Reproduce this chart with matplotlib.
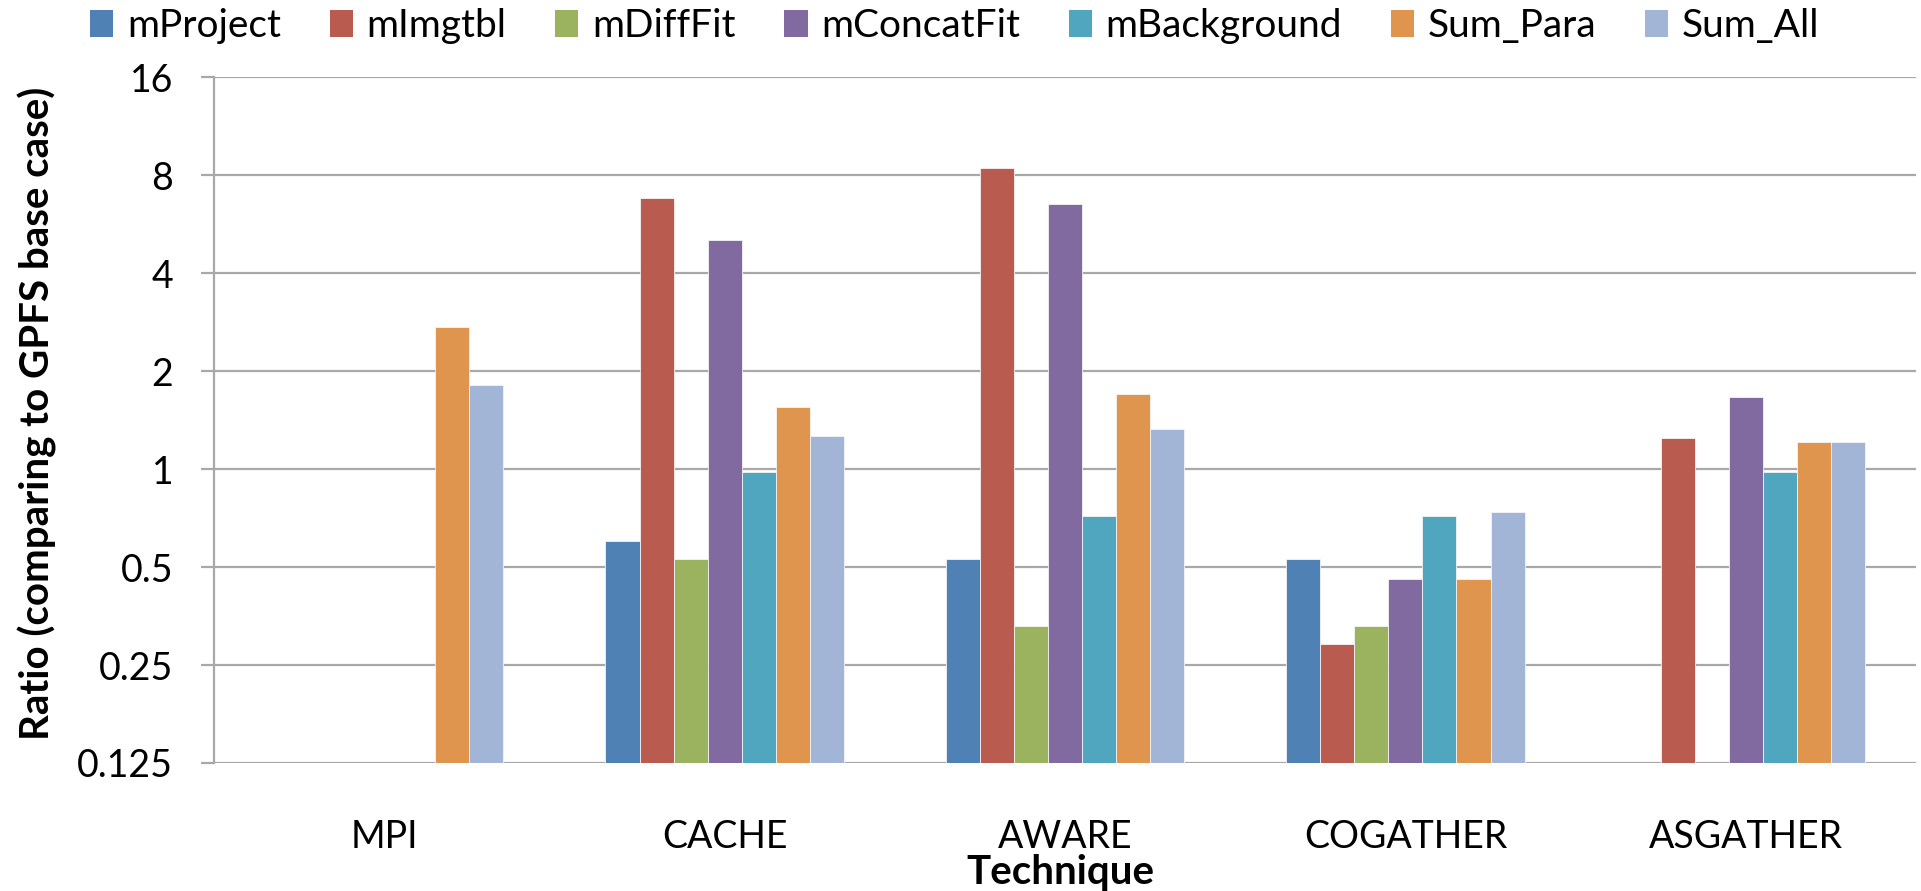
import numpy as np
import matplotlib
import matplotlib.pyplot as plt
from matplotlib.patches import Patch

matplotlib.use('Agg')

plt.rcParams['font.family'] = ['Lato', 'DejaVu Sans']

techniques = ['MPI', 'CACHE', 'AWARE', 'COGATHER', 'ASGATHER']
stages = ['mProject', 'mImgtbl', 'mDiffFit', 'mConcatFit', 'mBackground', 'Sum_Para', 'Sum_All']
colors = ['#4f81b4', '#ba5b50', '#9bb25e', '#816aa0', '#50a6be', '#df954e', '#a3b5d7']

# ratio to GPFS base case, one list per stage (nan = not measured)
mproject = [np.nan, 0.60, 0.53, 0.53, np.nan]
mimgtbl = [np.nan, 6.8, 8.45, 0.29, 1.25]
mdifffit = [np.nan, 0.53, 0.33, 0.33, np.nan]
mconcatfit = [np.nan, 5.05, 6.55, 0.46, 1.67]
mbackground = [np.nan, 0.98, 0.72, 0.72, 0.98]
sum_para = [2.73, 1.55, 1.70, 0.46, 1.21]
sum_all = [1.82, 1.26, 1.33, 0.74, 1.21]

yticks = [0.125, 0.25, 0.5, 1, 2, 4, 8, 16]
ytick_labels = ['0.125', '0.25', '0.5', '1', '2', '4', '8', '16']

values = [mproject, mimgtbl, mdifffit, mconcatfit, mbackground, sum_para, sum_all]

fig = plt.figure(figsize=(19.21, 8.91), dpi=100)
ax = fig.add_axes([0.1114, 0.1437, 0.886, 0.7695])

x = np.arange(len(techniques))
width = 0.1
for j, (name, vals) in enumerate(zip(stages, values)):
    ax.bar(x + (j - 3) * width, vals, width, color=colors[j], label=name,
           edgecolor='#f4f4f4', linewidth=0.6, zorder=3)

ax.set_yscale('log', base=2)
ax.set_ylim(0.125, 16)
ax.set_xlim(-0.5, len(techniques) - 0.5)
ax.set_yticks(yticks)
ax.set_yticklabels(ytick_labels)
ax.yaxis.set_minor_locator(matplotlib.ticker.NullLocator())
ax.set_xticks(x)
ax.set_xticklabels(techniques)

ax.grid(axis='y', color='#a8a8a8', linewidth=1.6, zorder=0)
for side in ['top', 'right', 'bottom']:
    ax.spines[side].set_visible(False)
ax.spines['left'].set_color('#a8a8a8')
ax.spines['left'].set_linewidth(1.6)

ax.tick_params(axis='y', labelsize=27, length=9.4, width=1.6, color='#a8a8a8', pad=20)
ax.tick_params(axis='x', labelsize=27, length=0, pad=40)

ax.set_ylabel('Ratio (comparing to GPFS base case)', fontsize=29, fontweight='bold')
ax.yaxis.set_label_coords(-0.092, 0.51)

fig.text(0.552, 0.042, 'Technique', fontsize=29, fontweight='bold', ha='center', va='top')

handles = [Patch(facecolor=c, edgecolor='none') for c in colors]
fig.legend(handles, stages, loc='upper center', bbox_to_anchor=(0.497, 1.03), ncol=7,
           frameon=False, fontsize=28, handlelength=0.6, handleheight=0.7,
           handletextpad=0.35, columnspacing=1.25)

fig.savefig('out.png', dpi=100)
